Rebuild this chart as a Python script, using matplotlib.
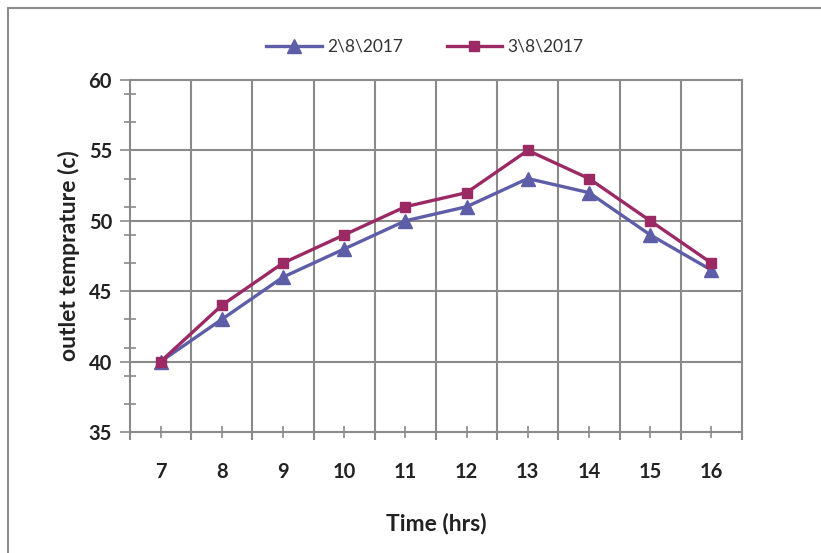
#!/usr/bin/env python
# -*- coding: utf-8 -*-

import matplotlib
matplotlib.use("Agg")
from matplotlib import pyplot as plt
from matplotlib.lines import Line2D
from matplotlib.ticker import MultipleLocator, FixedLocator

hours = ["7", "8", "9", "10", "11", "12", "13", "14", "15", "16"]
temp_feb = [40, 43, 46, 48, 50, 51, 53, 52, 49, 46.5]
temp_mar = [40, 44, 47, 49, 51, 52, 55, 53, 50, 47]
labels = ["2\\8\\2017", "3\\8\\2017"]

plt.rcParams['font.family'] = ['Lato', 'DejaVu Sans']

W, H = 821, 553
fig = plt.figure(figsize=(W / 100, H / 100), dpi=100)

# outer chart border (only top and left visible in the crop)
grey = '#8c8c8c'
fig.add_artist(Line2D([8 / W, 8 / W], [0, 1 - 8 / H], transform=fig.transFigure,
                      color=grey, lw=1.5))
fig.add_artist(Line2D([8 / W, 1], [1 - 8 / H, 1 - 8 / H], transform=fig.transFigure,
                      color=grey, lw=1.5))

ax = fig.add_axes([130 / W, 1 - 432 / H, 612 / W, 352 / H])

x = range(len(hours))
ax.plot(x, temp_feb, color='#5e5ea8', lw=2.4, marker='^', markersize=10,
        label=labels[0], zorder=3)
ax.plot(x, temp_mar, color='#9b2a64', lw=2.4, marker='s', markersize=6.5,
        label=labels[1], zorder=4)

ax.set_xlim(-0.5, len(hours) - 0.5)
ax.set_ylim(35, 60)

ax.set_xticks(list(x))
ax.set_xticklabels(hours)
ax.xaxis.set_minor_locator(FixedLocator([i - 0.5 for i in range(len(hours) + 1)]))
ax.yaxis.set_major_locator(MultipleLocator(5))
ax.yaxis.set_minor_locator(MultipleLocator(2, offset=1))

ax.grid(False)
gcol = '#8a8a8a'
for i in range(1, len(hours)):
    ax.axvline(i - 0.5, color=gcol, lw=1.5, zorder=1)
for v in range(40, 60, 5):
    ax.axhline(v, color=gcol, lw=1.5, zorder=1)

for s in ax.spines.values():
    s.set_color(gcol)
    s.set_linewidth(1.5)

ax.tick_params(axis='x', which='major', direction='inout', length=9, width=1.2,
               color=gcol, labelsize=14.5, pad=17)
ax.tick_params(axis='x', which='minor', direction='out', length=6, width=1.5,
               color=gcol)
ax.tick_params(axis='y', which='major', direction='inout', length=14, width=1.2,
               color=gcol, labelsize=14.5, pad=6)
ax.tick_params(axis='y', which='minor', direction='inout', length=9, width=1.2,
               color=gcol)
for t in ax.get_xticklabels() + ax.get_yticklabels():
    t.set_fontweight('bold')
    t.set_color('#222222')

ax.set_xlabel('Time (hrs)', fontsize=16.5, fontweight='bold', labelpad=22,
              color='#222222')
ax.set_ylabel('outlet temprature (c)', fontsize=16.5, fontweight='bold', labelpad=6,
              color='#222222')

fig.legend(loc='center', bbox_to_anchor=(425 / W, 1 - 47 / H), ncol=2,
           frameon=False, fontsize=12.5, handlelength=3.2, columnspacing=2.5,
           handletextpad=0.3, labelcolor='#333333')

plt.savefig('out.png', dpi=100)
